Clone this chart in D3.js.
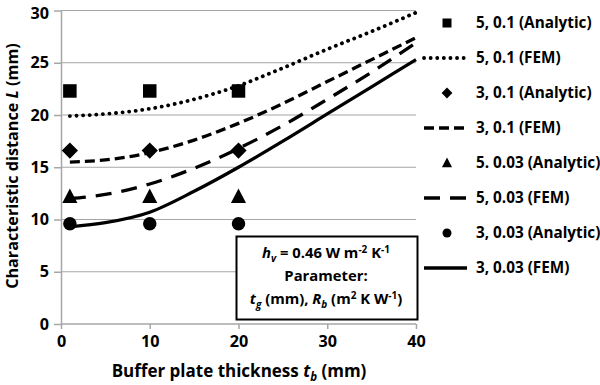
<!DOCTYPE html>
<meta charset="utf-8">
<head>
  <meta charset="utf-8">
  <title>Characteristic distance</title>
  <style>
  body { margin: 0; background: #fff; }
  svg text { font-family: "Open Sans", "Lato", sans-serif; font-weight: bold; fill: #000; }
  .grid line { stroke: #a6a6a6; stroke-width: 1.2; }
  .axis path, .axis line { stroke: #a6a6a6; stroke-width: 1.5; }
  </style>
</head>
<body>
<div id="chart"></div>
<script src="https://d3js.org/d3.v7.min.js"></script>
<script>

// analytic points (x = 1, 10, 20)
var tbAnalytic = [1, 10, 20];
var a5_01  = [22.3, 22.3, 22.3];
var a3_01  = [16.6, 16.6, 16.6];
var a5_003 = [12.2, 12.2, 12.2];
var a3_003 = [9.6, 9.6, 9.6];

// FEM curves
var tbFem = [1, 5, 10, 15, 20, 25, 30, 35, 40];
var f5_01  = [19.9, 20.1, 20.6, 21.5, 22.8, 24.5, 26.3, 28.0, 29.8];
var f3_01  = [15.5, 15.7, 16.4, 17.6, 19.2, 21.1, 23.2, 25.3, 27.4];
var f5_003 = [12.0, 12.4, 13.4, 14.9, 16.8, 19.0, 21.5, 24.1, 26.9];
var f3_003 = [9.3, 9.7, 10.7, 12.7, 15.0, 17.5, 20.1, 22.7, 25.3];

var xTicks = [0, 10, 20, 30, 40];
var yTicks = [0, 5, 10, 15, 20, 25, 30];

var legendLabels = ["5, 0.1 (Analytic)", "5, 0.1 (FEM)", "3, 0.1 (Analytic)", "3, 0.1 (FEM)",
                    "5. 0.03 (Analytic)", "5, 0.03 (FEM)", "3, 0.03 (Analytic)", "3, 0.03 (FEM)"];

var width = 600, height = 385;
var svg = d3.select("#chart").append("svg")
    .attr("width", width)
    .attr("height", height);

var x = d3.scaleLinear().domain([0, 40]).range([61, 416]);
var y = d3.scaleLinear().domain([0, 30]).range([324, 10.5]);

// horizontal grid
svg.append("g")
    .attr("class", "grid")
    .selectAll("line")
    .data(yTicks.filter(function(d){ return d > 0; }))
    .enter().append("line")
      .attr("x1", x(0)).attr("x2", x(40))
      .attr("y1", function(d){ return y(d); })
      .attr("y2", function(d){ return y(d); });

// axes
var xAxis = svg.append("g")
    .attr("class", "axis")
    .attr("transform", "translate(0," + y(0) + ")")
    .call(d3.axisBottom(x).tickValues(xTicks).tickSize(5).tickSizeOuter(0).tickPadding(6));
var yAxis = svg.append("g")
    .attr("class", "axis")
    .attr("transform", "translate(" + x(0) + ",0)")
    .call(d3.axisLeft(y).tickValues(yTicks).tickSize(7).tickSizeOuter(0).tickPadding(5));
svg.selectAll(".axis .tick text").style("font-size", "16.2px").attr("font-family", null);
// keep the top label inside the picture
yAxis.selectAll(".tick text").filter(function(d){ return d === 30; }).attr("y", 2.5);
xAxis.select(".domain").attr("d", "M" + x(0) + ",0H" + x(40));

// FEM lines
var line = d3.line()
    .x(function(d){ return x(d[0]); })
    .y(function(d){ return y(d[1]); })
    .curve(d3.curveMonotoneX);

var femStyles = [
  {data: f5_01,  dash: "0.1,6.5", cap: "round", w: 3.8},
  {data: f3_01,  dash: "10,5",    cap: "butt",  w: 3.3},
  {data: f5_003, dash: "16,10",   cap: "butt",  w: 3.3},
  {data: f3_003, dash: null,      cap: "butt",  w: 3.3}
];

femStyles.forEach(function(s){
  svg.append("path")
    .datum(d3.zip(tbFem, s.data))
    .attr("d", line)
    .attr("fill", "none")
    .attr("stroke", "#000")
    .attr("stroke-width", s.w)
    .attr("stroke-linecap", s.cap)
    .attr("stroke-dasharray", s.dash);
});

// analytic markers
function marker(g, type, cx, cy, size) {
  if (type === "square") {
    g.append("rect").attr("x", cx - size/2).attr("y", cy - size/2)
      .attr("width", size).attr("height", size).attr("fill", "#000");
  } else if (type === "diamond") {
    var r = size * 0.6;
    g.append("path").attr("d", "M" + cx + "," + (cy - r) + "L" + (cx + r) + "," + cy +
      "L" + cx + "," + (cy + r) + "L" + (cx - r) + "," + cy + "Z").attr("fill", "#000");
  } else if (type === "triangle") {
    g.append("path").attr("d", "M" + cx + "," + (cy - size*0.6) + "L" + (cx + size*0.56) + "," + (cy + size*0.48) +
      "L" + (cx - size*0.56) + "," + (cy + size*0.48) + "Z").attr("fill", "#000");
  } else {
    g.append("circle").attr("cx", cx).attr("cy", cy).attr("r", size/2).attr("fill", "#000");
  }
}

var analytic = [
  {data: a5_01, type: "square"},
  {data: a3_01, type: "diamond"},
  {data: a5_003, type: "triangle"},
  {data: a3_003, type: "circle"}
];
var mg = svg.append("g");
analytic.forEach(function(s){
  s.data.forEach(function(v, i){
    marker(mg, s.type, x(tbAnalytic[i]), y(v), 13.5);
  });
});

// annotation box
var box = svg.append("g");
box.append("rect")
  .attr("x", 236.5).attr("y", 236.5).attr("width", 181).attr("height", 83)
  .attr("fill", "#fff").attr("stroke", "#000").attr("stroke-width", 2);
var fs = "14.8px", sub = "10px";
var t1 = box.append("text").attr("x", 326).attr("y", 258).attr("text-anchor", "middle").style("font-size", fs);
t1.append("tspan").attr("font-style", "italic").text("h");
t1.append("tspan").attr("font-style", "italic").attr("dy", 4).style("font-size", sub).text("v");
t1.append("tspan").attr("dy", -4).text(" = 0.46 W m");
t1.append("tspan").attr("dy", -5).style("font-size", sub).text("-2");
t1.append("tspan").attr("dy", 5).text(" K");
t1.append("tspan").attr("dy", -5).style("font-size", sub).text("-1");
box.append("text").attr("x", 326).attr("y", 281).attr("text-anchor", "middle").style("font-size", fs).text("Parameter:");
var t3 = box.append("text").attr("x", 326).attr("y", 304).attr("text-anchor", "middle").style("font-size", fs);
t3.append("tspan").attr("font-style", "italic").text("t");
t3.append("tspan").attr("font-style", "italic").attr("dy", 4).style("font-size", sub).text("g");
t3.append("tspan").attr("dy", -4).text(" (mm), ");
t3.append("tspan").attr("font-style", "italic").text("R");
t3.append("tspan").attr("font-style", "italic").attr("dy", 4).style("font-size", sub).text("b");
t3.append("tspan").attr("dy", -4).text(" (m");
t3.append("tspan").attr("dy", -5).style("font-size", sub).text("2");
t3.append("tspan").attr("dy", 5).text(" K W");
t3.append("tspan").attr("dy", -5).style("font-size", sub).text("-1");
t3.append("tspan").attr("dy", 5).text(")");

// legend
var lg = svg.append("g");
legendLabels.forEach(function(lab, i){
  var ly = 23 + i * 35;
  if (i % 2 === 0) {
    marker(lg, analytic[i/2].type, 447, ly, 9);
  } else {
    var s = femStyles[(i-1)/2];
    lg.append("line").attr("x1", 424).attr("x2", 467).attr("y1", ly).attr("y2", ly)
      .attr("stroke", "#000").attr("stroke-width", s.w)
      .attr("stroke-linecap", s.cap).attr("stroke-dasharray", s.dash);
  }
  lg.append("text").attr("x", 476).attr("y", ly).attr("dy", "0.35em")
    .style("font-size", "15.3px").text(lab);
});

// axis titles
var xt = svg.append("text").attr("x", 239).attr("y", 377).attr("text-anchor", "middle").style("font-size", "17px");
xt.append("tspan").text("Buffer plate thickness ");
xt.append("tspan").attr("font-style", "italic").text("t");
xt.append("tspan").attr("font-style", "italic").attr("dy", 4).style("font-size", "11.5px").text("b");
xt.append("tspan").attr("dy", -4).text(" (mm)");

var yt = svg.append("text").attr("transform", "translate(18,166) rotate(-90)")
  .attr("text-anchor", "middle").style("font-size", "16.2px");
yt.append("tspan").text("Characteristic distance ");
yt.append("tspan").attr("font-style", "italic").text("L");
yt.append("tspan").text(" (mm)");

</script>
</body>
